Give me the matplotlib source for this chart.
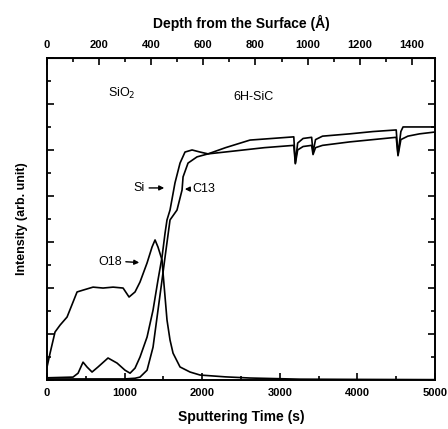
import numpy as np
import matplotlib.pyplot as plt
from matplotlib.ticker import MultipleLocator

plt.rcParams['font.family'] = ['Liberation Sans', 'DejaVu Sans']

# sputtering time (s) and intensity (arb. unit)
o18_t = [0, 39, 103, 168, 258, 335, 387, 464, 593, 722, 851, 980, 1057, 1134,
         1198, 1289, 1353, 1392, 1430, 1482, 1495, 1546, 1585, 1624, 1714,
         1843, 1972, 2300, 2616, 3260, 4000, 5000]
o18_v = [0.57, 1.17, 2.09, 2.39, 2.74, 3.39, 3.83, 3.91, 4.04, 4.0, 4.04, 4.0,
         3.61, 3.83, 4.26, 5.09, 5.78, 6.09, 5.78, 5.22, 4.65, 2.61, 1.74,
         1.17, 0.57, 0.35, 0.22, 0.14, 0.09, 0.04, 0.03, 0.02]

si_t = [0, 335, 400, 464, 515, 580, 657, 786, 902, 1005, 1070, 1134, 1198,
        1289, 1366, 1430, 1482, 1521, 1546, 1585, 1649, 1714, 1778, 1869, 1972,
        2075, 2400, 2800, 3180, 3200, 3230, 3300, 3410, 3428, 3460, 3550, 3900,
        4200, 4500, 4523, 4560, 4650, 4800, 5000]
si_v = [0.1, 0.13, 0.3, 0.78, 0.57, 0.35, 0.57, 0.96, 0.74, 0.43, 0.3, 0.52,
        1.0, 1.87, 3.04, 4.35, 5.35, 6.39, 6.96, 7.39, 8.57, 9.43, 9.91, 10.0,
        9.91, 9.83, 9.95, 10.1, 10.2, 9.4, 10.0, 10.15, 10.2, 9.8, 10.1, 10.2,
        10.35, 10.45, 10.55, 9.75, 10.45, 10.6, 10.7, 10.78]

c13_t = [0, 1000, 1134, 1198, 1289, 1366, 1430, 1482, 1521, 1585, 1675, 1740,
         1753, 1817, 1933, 2075, 2300, 2616, 2900, 3180, 3200, 3230, 3300, 3410,
         3428, 3460, 3550, 3900, 4200, 4500, 4523, 4560, 4588, 4800, 5000]
c13_v = [0.05, 0.05, 0.08, 0.13, 0.43, 1.43, 3.04, 4.35, 5.35, 6.96, 7.39,
         8.26, 8.83, 9.43, 9.70, 9.83, 10.1, 10.43, 10.5, 10.57, 9.43, 10.3,
         10.5, 10.55, 9.9, 10.45, 10.6, 10.7, 10.8, 10.87, 9.8, 10.8, 11.0,
         11.0, 11.0]

depth_ticks = [0, 200, 400, 600, 800, 1000, 1200, 1400]
depth_per_s = 0.2978  # Angstrom per second

fig = plt.figure(figsize=(4.48, 4.29), dpi=100)
ax = fig.add_axes([0.105, 0.114, 0.866, 0.751])

ax.plot(o18_t, o18_v, color='black', lw=1.2)
ax.plot(si_t, si_v, color='black', lw=1.2)
ax.plot(c13_t, c13_v, color='black', lw=1.2)

ax.set_xlim(0, 5000)
ax.set_ylim(0, 14)
ax.xaxis.set_major_locator(MultipleLocator(1000))
ax.xaxis.set_minor_locator(MultipleLocator(500))
ax.yaxis.set_major_locator(MultipleLocator(2))
ax.yaxis.set_minor_locator(MultipleLocator(1))
ax.set_yticklabels([])
ax.tick_params(which='both', direction='in', right=True, width=1.2)
ax.tick_params(which='major', length=5)
ax.tick_params(which='minor', length=3)
ax.tick_params(axis='x', labelsize=8, pad=6)
for lab in ax.get_xticklabels():
    lab.set_fontweight('bold')
for s in ax.spines.values():
    s.set_linewidth(1.4)

top = ax.secondary_xaxis('top', functions=(lambda t: t * depth_per_s,
                                           lambda d: d / depth_per_s))
top.set_xticks(depth_ticks)
top.set_xticklabels([str(d) for d in depth_ticks], fontweight='bold')
top.xaxis.set_minor_locator(MultipleLocator(100))
top.tick_params(which='both', direction='in', width=1.2, labelsize=8, pad=6)
top.tick_params(which='major', length=5)
top.tick_params(which='minor', length=3)
top.set_xlabel('Depth from the Surface (Å)', fontsize=10, fontweight='bold',
               labelpad=8)

ax.set_xlabel('Sputtering Time (s)', fontsize=10, fontweight='bold', labelpad=8)
ax.set_ylabel('Intensity (arb. unit)', fontsize=9, fontweight='bold', labelpad=10)

ax.text(786, 12.45, 'SiO$_2$', fontsize=9, va='center')
ax.text(2397, 12.3, '6H-SiC', fontsize=9, va='center')
ax.text(1260, 8.35, 'Si', fontsize=9, va='center', ha='right')
ax.annotate('', xy=(1546, 8.35), xytext=(1280, 8.35),
            arrowprops=dict(arrowstyle='-|>', color='black', lw=1, mutation_scale=7))
ax.text(1870, 8.3, 'C13', fontsize=9, va='center', ha='left')
ax.annotate('', xy=(1740, 8.3), xytext=(1870, 8.3),
            arrowprops=dict(arrowstyle='-|>', color='black', lw=1, mutation_scale=7))
ax.text(960, 5.15, 'O18', fontsize=9, va='center', ha='right')
ax.annotate('', xy=(1224, 5.1), xytext=(980, 5.15),
            arrowprops=dict(arrowstyle='-|>', color='black', lw=1, mutation_scale=7))

fig.savefig('out.png', dpi=100)
